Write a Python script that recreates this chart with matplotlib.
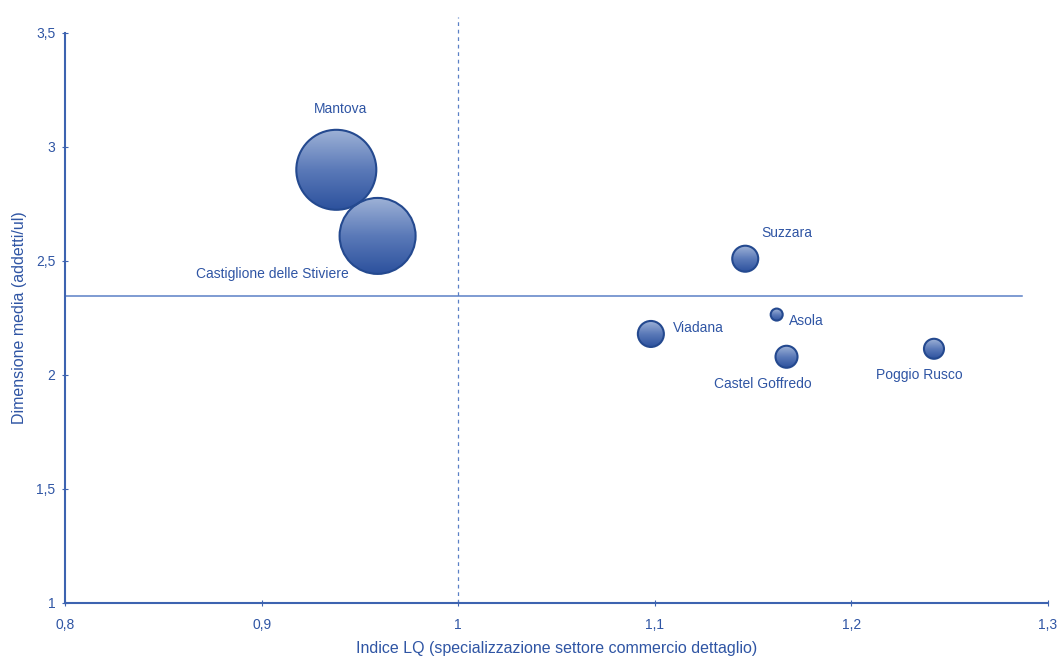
import numpy as np
import matplotlib.pyplot as plt
import matplotlib.transforms as mtrans
from matplotlib.patches import Circle
from matplotlib.colors import LinearSegmentedColormap

plt.rcParams['font.family'] = ['Liberation Sans', 'DejaVu Sans']

# data
comuni = ["Mantova", "Castiglione delle Stiviere", "Suzzara", "Asola", "Viadana", "Castel Goffredo", "Poggio Rusco"]
lq = [0.938, 0.959, 1.146, 1.162, 1.098, 1.167, 1.242]
dimensione = [2.90, 2.61, 2.51, 2.265, 2.18, 2.08, 2.115]
peso = [1600, 1444, 169, 36, 169, 121, 100]   # bubble area (relative)
media_dim = 2.345
media_lq = 1.0
xticks = [0.8, 0.9, 1.0, 1.1, 1.2, 1.3]
xlabels = ["0,8", "0,9", "1", "1,1", "1,2", "1,3"]
yticks = [1, 1.5, 2, 2.5, 3, 3.5]
ylabels = ["1", "1,5", "2", "2,5", "3", "3,5"]
# label offsets (pixels) and alignment
offs = [(4, 61, "center"), (-105, -38, "center"), (42, 26, "center"), (12, -6, "left"),
        (22, 6, "left"), (-24, -27, "center"), (-15, -26, "center")]

blu = "#2f55a4"
fig = plt.figure(figsize=(10.62, 6.59), dpi=100)
ax = fig.add_axes([65/1062, 56/659, 983/1062, 570/659])
ax.set_xlim(0.8, 1.3)
ax.set_ylim(1, 3.5)

#reference lines
ax.axhline(media_dim, xmin=0, xmax=(1.287-0.8)/0.5, color="#5b80c6", lw=1.1)
ax.plot([media_lq, media_lq], [1, 3.57], ls=(0, (3, 3)), color="#5b80c6", lw=0.9, clip_on=False)

#gradient bubbles
grad = np.linspace(0, 1, 256).reshape(-1, 1)
cmap = LinearSegmentedColormap.from_list("b", ["#2c519d", "#5a79b8", "#9db1d6"])
for x, y, p in zip(lq, dimensione, peso):
    r = np.sqrt(p)  # radius in pixels
    tr = mtrans.Affine2D().scale(r) + mtrans.ScaledTranslation(x, y, ax.transData)
    circ = Circle((0, 0), 1, transform=tr, facecolor="none", edgecolor="#24498f", lw=1.5, zorder=4)
    im = ax.imshow(grad, cmap=cmap, origin="lower", extent=[-1, 1, -1, 1], aspect="auto", zorder=3)
    im.set_transform(tr)
    im.set_clip_path(Circle((0, 0), 1, transform=tr))
    ax.add_patch(circ)
ax.set_xlim(0.8, 1.3)
ax.set_ylim(1, 3.5)

for name, x, y, (dx, dy, ha) in zip(comuni, lq, dimensione, offs):
    ax.annotate(name, (x, y), xytext=(dx, dy), textcoords="offset pixels", ha=ha, va="center",
                fontsize=10, color=blu, zorder=5)

for s in ["top", "right"]:
    ax.spines[s].set_visible(False)
for s in ["left", "bottom"]:
    ax.spines[s].set_color("#3d63b0")
    ax.spines[s].set_linewidth(1.5)
ax.set_xticks(xticks)
ax.set_xticklabels(xlabels)
ax.set_yticks(yticks)
ax.set_yticklabels(ylabels)
ax.tick_params(colors="#3d63b0", labelcolor=blu, labelsize=10, length=4, direction="inout")
ax.tick_params(axis="x", pad=9)
ax.tick_params(axis="y", pad=5)
ax.set_xlabel("Indice LQ (specializzazione settore commercio dettaglio)", color=blu, fontsize=11.5)
ax.set_ylabel("Dimensione media (addetti/ul)", color=blu, fontsize=11.5)
ax.xaxis.set_label_coords(0.5, -0.066)
ax.yaxis.set_label_coords(-0.039, 0.5)

fig.savefig("out.png", dpi=100)
